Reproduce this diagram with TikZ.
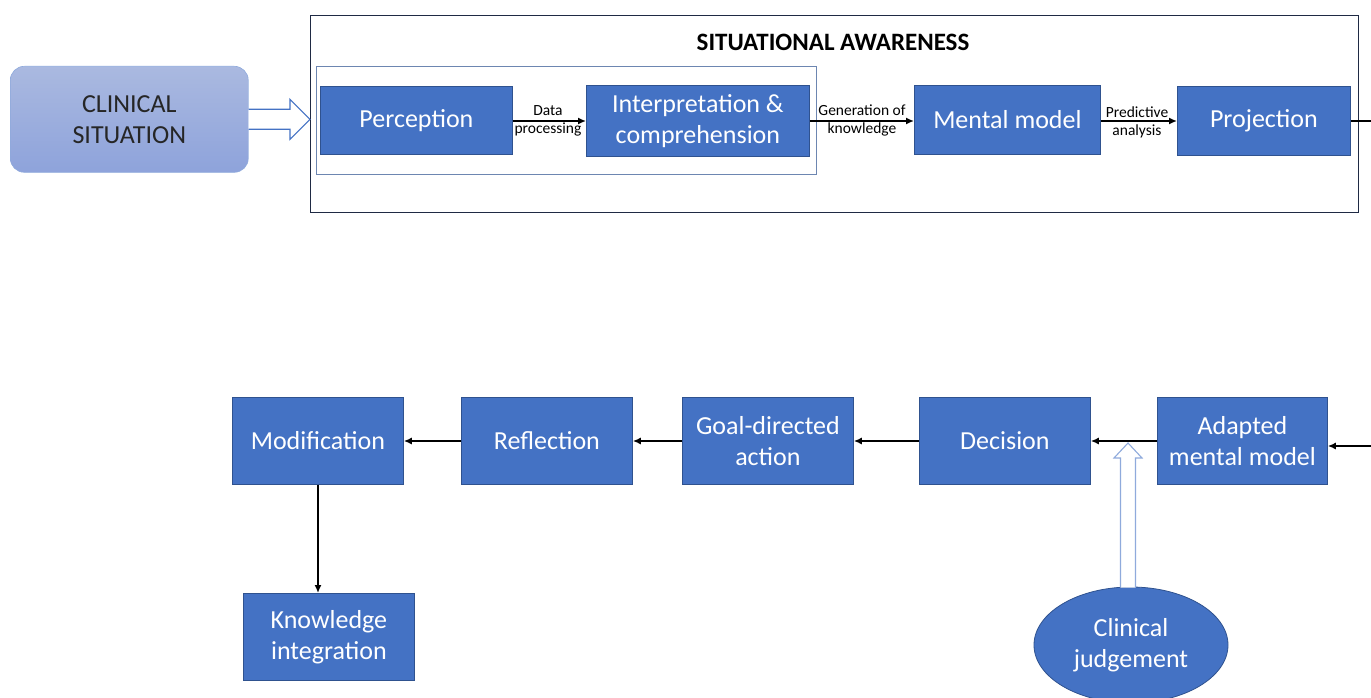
\documentclass[tikz,border=0pt]{standalone}
\usepackage{fontspec}
\setmainfont{Carlito}
\usetikzlibrary{shapes.geometric,arrows.meta,calc}
\definecolor{boxblue}{HTML}{4472C4}
\definecolor{boxedge}{HTML}{2F528F}
\definecolor{sitetop}{HTML}{AAB9E0}
\definecolor{sitebot}{HTML}{8EA3DB}
\definecolor{navy}{HTML}{1F2A44}
\definecolor{hollowedge}{HTML}{4472C4}
\definecolor{lightedge}{HTML}{8FAADC}
\tikzset{
  proc/.style={draw=boxedge, line width=0.8pt, fill=boxblue, text=white, font=\fontsize{26}{31}\selectfont, align=center, inner sep=0pt, anchor=north west},
  lbl/.style={font=\fontsize{15.5}{17}\selectfont, align=center, inner sep=1pt},
  conn/.style={-{Latex[length=8pt,width=7pt]}, line width=1.5pt, black},
  hollow/.style={draw=#1, fill=white, line width=1.1pt, line join=miter},
}
\begin{document}
\begin{tikzpicture}[x=1pt,y=-1pt]
\useasboundingbox (0,0) rectangle (1371,698);
% clinical situation
\node[draw=lightedge, line width=0.6pt, rounded corners=14pt, top color=sitetop, bottom color=sitebot, minimum width=238pt, minimum height=106pt, anchor=north west, inner sep=0pt, text=black!85, font=\fontsize{26}{31}\selectfont, align=center] (cs) at (10,66) {CLINICAL\\SITUATION};
% situational awareness frame
\node[draw=navy, line width=1pt, minimum width=1048pt, minimum height=197pt, anchor=north west, inner sep=0pt] (sa) at (310,15) {};
\node[font=\bfseries\fontsize{25}{28}\selectfont, anchor=center] (title) at (833,42) {SITUATIONAL AWARENESS};
\node[draw=boxedge!70, line width=0.8pt, minimum width=500pt, minimum height=108pt, anchor=north west, inner sep=0pt] (inner) at (316,66) {};
% hollow arrow clinical situation -> situational awareness
\coordinate (hs) at (cs.east);
\coordinate (ht) at (sa.west |- cs.east);
\draw[hollow=hollowedge] ($(hs)+(0,-10)$) -- ($(ht)+(-20,-10)$) -- ($(ht)+(-20,-20)$) -- (ht) -- ($(ht)+(-20,20)$) -- ($(ht)+(-20,10)$) -- ($(hs)+(0,10)$);
% top row
\node[proc, minimum width=192pt, minimum height=68pt] (perc) at (320,86) {Perception};
\node[proc, minimum width=223pt, minimum height=71pt] (interp) at (586,85) {Interpretation \&\\comprehension};
\node[proc, minimum width=186pt, minimum height=69pt] (mm) at (914,85) {Mental model};
\node[proc, minimum width=173pt, minimum height=69pt] (proj) at (1177,86) {Projection};
\draw[conn] (perc.east |- 0,121) -- (interp.west |- 0,121);
\node[lbl] (l1a) at (548,111) {Data};
\node[lbl] (l1b) at (548,130) {processing};
\draw[conn] (interp.east |- 0,121) -- (mm.west |- 0,121);
\node[lbl] (l2a) at (862,110) {Generation of};
\node[lbl] (l2b) at (862,129) {knowledge};
\draw[conn] (mm.east |- 0,121) -- (proj.west |- 0,121);
\node[lbl] (l3a) at (1137,112) {Predictive};
\node[lbl] (l3b) at (1137,131) {analysis};
% bottom row
\node[proc, minimum width=171pt, minimum height=87pt] (mod) at (232,397) {Modification};
\node[proc, minimum width=171pt, minimum height=87pt] (refl) at (461,397) {Reflection};
\node[proc, minimum width=171pt, minimum height=87pt] (goal) at (682,397) {Goal-directed\\action};
\node[proc, minimum width=171pt, minimum height=87pt] (dec) at (919,397) {Decision};
\node[proc, minimum width=170pt, minimum height=87pt] (amm) at (1157,397) {Adapted\\mental model};
\node[proc, minimum width=171pt, minimum height=87pt] (ki) at (243,593) {Knowledge\\integration};
% projection loops to adapted mental model (off page on the right)
\coordinate (loop) at (1400,121);
\draw[conn] (proj.east |- 0,121) -- (loop) |- (amm.east |- 0,446);
\draw[conn] (amm.west |- 0,441) -- (dec.east |- 0,441);
\draw[conn] (dec.west |- 0,441) -- (goal.east |- 0,441);
\draw[conn] (goal.west |- 0,441) -- (refl.east |- 0,441);
\draw[conn] (refl.west |- 0,441) -- (mod.east |- 0,441);
\draw[conn] (mod.south -| 318,0) -- (ki.north -| 318,0);
% clinical judgement
\node[ellipse, draw=boxedge, line width=0.8pt, fill=boxblue, text=white, minimum width=194pt, minimum height=116pt, inner sep=0pt, font=\fontsize{26}{31}\selectfont, align=center] (cj) at (1131,645) {Clinical\\judgement};
% hollow arrow clinical judgement -> decision connector
\coordinate (vb) at ($(cj.north)+(-3,1)$);
\coordinate (vt) at (vb |- 0,443);
\draw[hollow=lightedge] ($(vb)+(-7.5,0)$) -- ($(vt)+(-7.5,15)$) -- ($(vt)+(-14,15)$) -- (vt) -- ($(vt)+(14,15)$) -- ($(vt)+(7.5,15)$) -- ($(vb)+(7.5,0)$);
\end{tikzpicture}
\end{document}
